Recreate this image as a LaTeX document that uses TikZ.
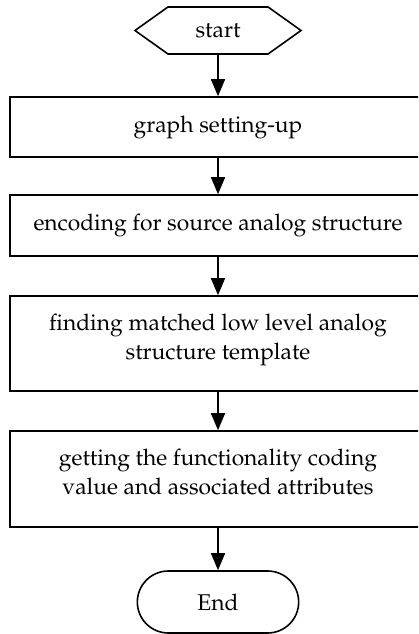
\documentclass[tikz,border=0pt]{standalone}
\usepackage[T1]{fontenc}
\usepackage{mathpazo}
\usepackage{tikz}
\usetikzlibrary{arrows.meta, shapes.symbols, shapes.misc}

\begin{document}
\begin{tikzpicture}[x=1pt, y=-1pt, >={Triangle[width=14pt,length=17pt]}, line width=1.6pt,
    font=\fontsize{22.8}{29}\selectfont,
    stepbox/.style={draw, rectangle, minimum width=416pt, align=center, inner sep=0pt},
    flowarrow/.style={->}]
    \def\cx{218}
    % Canvas (boxes run past the right edge)
    \clip (0,0) rectangle (418,634);
    % Terminals
    \node[draw, signal, signal to=west and east, signal pointer angle=71, minimum width=166pt, minimum height=47pt, inner sep=0pt] (start) at (\cx, 30.5) {start};
    \node[draw, rounded rectangle, minimum width=168pt, minimum height=62pt] (stop) at (\cx, 602) {End};
    % Process steps
    \node[stepbox, minimum height=60pt] (setup) at (\cx, 127) {graph setting-up};
    \node[stepbox, minimum height=61pt] (encode) at (\cx, 225.5) {encoding for source analog structure};
    \node[stepbox, minimum height=95pt, text depth=14pt] (match) at (\cx, 343.5) {finding matched low level analog\\structure template};
    \node[stepbox, minimum height=96pt, text depth=14pt] (attrs) at (\cx, 479) {getting the functionality coding\\value and associated attributes};
    % Arrows
    \foreach \a/\b in {start/setup, setup/encode, encode/match, match/attrs, attrs/stop} {\draw[flowarrow] (\a) -- (\b);}
\end{tikzpicture}
\end{document}
